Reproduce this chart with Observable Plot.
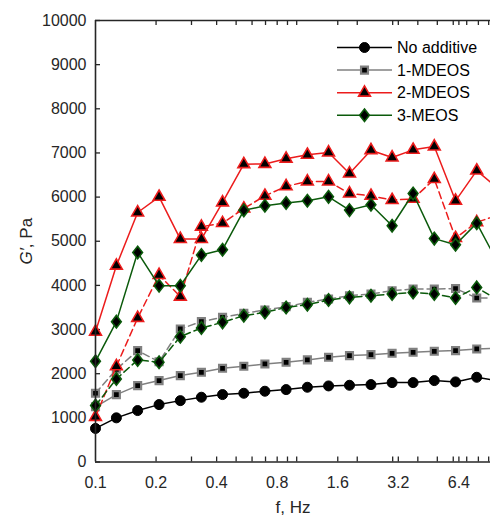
<!DOCTYPE html>
<html><head><meta charset="utf-8">
<script src="https://cdn.jsdelivr.net/npm/d3@7"></script>
<script src="https://cdn.jsdelivr.net/npm/@observablehq/plot@0.6"></script>
<style>
html,body{margin:0;padding:0;background:#fff;overflow:hidden;}
#chart{position:relative;width:490px;height:516px;}
#chart svg{overflow:hidden;}
</style></head><body><div id="chart"></div>
<script>
// Frequencies (Hz), log-spaced sweep; the last point lies just beyond the cropped right edge
const freq = [0.1, 0.127, 0.162, 0.207, 0.264, 0.336, 0.428, 0.546, 0.695, 0.886, 1.13, 1.44, 1.83, 2.34, 2.98, 3.79, 4.83, 6.16, 7.85, 10];

const noAdditive   = [760, 1000, 1165, 1300, 1390, 1467, 1527, 1557, 1603, 1640, 1693, 1723, 1738, 1753, 1798, 1798, 1844, 1814, 1919, 1840];
const mdeos1Solid  = [1250, 1527, 1731, 1844, 1957, 2032, 2122, 2168, 2221, 2258, 2312, 2372, 2410, 2432, 2462, 2485, 2507, 2523, 2561, 2580];
const mdeos1Dashed = [1557, 2100, 2523, 2270, 3014, 3179, 3276, 3367, 3443, 3518, 3616, 3692, 3767, 3805, 3880, 3918, 3918, 3930, 3715, 3720];
const mdeos2Solid  = [2950, 4446, 5651, 6006, 5050, 5050, 5878, 6745, 6750, 6870, 6957, 7009, 6534, 7062, 6896, 7070, 7145, 5916, 6600, 6197];
const mdeos2Dashed = [1020, 2168, 3262, 4235, 3744, 5330, 5410, 5740, 6029, 6245, 6353, 6353, 6081, 6029, 5932, 5960, 6407, 5072, 5430, 5590];
const meos3Solid   = [2281, 3179, 4747, 3993, 3993, 4687, 4808, 5700, 5803, 5865, 5916, 6006, 5705, 5826, 5351, 6081, 5060, 4921, 5410, 4513];
const meos3Dashed  = [1278, 1882, 2312, 2258, 2839, 3036, 3163, 3314, 3389, 3500, 3563, 3669, 3729, 3767, 3805, 3842, 3805, 3715, 3955, 3667];

const seriesNames = ["No additive", "1-MDEOS", "2-MDEOS", "3-MEOS"];
const xTickLabels = ["0.1", "0.2", "0.4", "0.8", "1.6", "3.2", "6.4"];
const xTickMarks  = [0.2, 0.3, 0.4, 0.5, 0.6, 0.7, 0.8, 0.9, 1, 1.6, 2, 3, 3.2, 4, 5, 6, 6.4, 7, 8, 9];
const yTicks      = [0, 1000, 2000, 3000, 4000, 5000, 6000, 7000, 8000, 9000, 10000];

const RED = "#ec1c1c", GREEN = "#0b5a0b", GRAY = "#808080", AXIS = "#262626";
const FONT = "'Liberation Sans', Arial, sans-serif";

const diamond = {draw(ctx, size) {
  const h = Math.sqrt(size / 1.56), w = 0.78 * h;
  ctx.moveTo(0, -h); ctx.lineTo(w, 0); ctx.lineTo(0, h); ctx.lineTo(-w, 0); ctx.closePath();
}};

const styles = {
  "No additive": {line: "black", symbol: "circle", r: 5, fill: "black", stroke: "black", sw: 1},
  "1-MDEOS": {line: GRAY, symbol: "square", r: 3.9, fill: "black", stroke: GRAY, sw: 2.2},
  "2-MDEOS": {line: RED, symbol: "triangle", r: 4.4, fill: "black", stroke: RED, sw: 1.6},
  "3-MEOS": {line: GREEN, symbol: diamond, r: 4.4, fill: "black", stroke: GREEN, sw: 1.6}
};

const rows = (vals) => freq.map((f, i) => ({f, v: vals[i]}));
const curves = [
  {name: "No additive", vals: noAdditive, dash: null},
  {name: "1-MDEOS", vals: mdeos1Solid, dash: null},
  {name: "1-MDEOS", vals: mdeos1Dashed, dash: "7,4"},
  {name: "2-MDEOS", vals: mdeos2Solid, dash: null},
  {name: "2-MDEOS", vals: mdeos2Dashed, dash: "7,4"},
  {name: "3-MEOS", vals: meos3Solid, dash: null},
  {name: "3-MEOS", vals: meos3Dashed, dash: "7,4"}
];

const W = 490, H = 516, ML = 95, MR = 0, MT = 20, MB = 54.5;
const FW = W - ML - MR, FH = H - MT - MB;

const seriesMarks = [];
for (const name of seriesNames) {
  const s = styles[name];
  for (const c of curves.filter(c => c.name === name)) {
    seriesMarks.push(Plot.line(rows(c.vals), {x: "f", y: "v", stroke: s.line, strokeWidth: 1.5, strokeDasharray: c.dash}));
  }
  for (const c of curves.filter(c => c.name === name)) {
    seriesMarks.push(Plot.dot(rows(c.vals), {x: "f", y: "v", symbol: s.symbol, r: s.r, fill: s.fill, stroke: s.stroke, strokeWidth: s.sw}));
  }
}

const chart = Plot.plot({
  width: W, height: H, marginLeft: ML, marginRight: MR, marginTop: MT, marginBottom: MB,
  style: {fontFamily: FONT, fontSize: "16px", color: AXIS, background: "white"},
  x: {type: "log", domain: [0.1, 9.19]},
  y: {domain: [0, 10000]},
  marks: [
    Plot.axisX({ticks: [], label: "f, Hz", labelAnchor: "center", labelArrow: "none", labelOffset: 51, fill: AXIS}),
    Plot.text(xTickLabels, {x: d => +d, text: d => d, frameAnchor: "bottom", lineAnchor: "top", dy: 14.5, fill: AXIS, fontSize: 16}),
    Plot.axisY({ticks: yTicks, tickSize: 0, tickPadding: 9, tickFormat: d => String(d),
      label: "G′, Pa", labelAnchor: "center", labelArrow: "none", labelOffset: 76, fill: AXIS}),
    Plot.tickX(xTickMarks, {x: d => d, insetTop: FH - 5, stroke: AXIS, strokeWidth: 1.3}),
    Plot.tickX(xTickMarks, {x: d => d, insetBottom: FH - 5, stroke: AXIS, strokeWidth: 1.3}),
    Plot.tickY(yTicks, {y: d => d, insetRight: FW - 5, stroke: AXIS, strokeWidth: 1.3}),
    ...seriesMarks,
    Plot.ruleY([0], {stroke: AXIS, strokeWidth: 1.6}),
    Plot.ruleY([10000], {stroke: AXIS, strokeWidth: 1.6}),
    Plot.ruleX([0.1], {stroke: AXIS, strokeWidth: 1.6})
  ]
});
document.getElementById("chart").appendChild(chart);

const svg = d3.select(chart);
svg.selectAll('g[aria-label="x-axis label"] text').style("font-size", "17px");
const yl = svg.select('g[aria-label="y-axis label"] text');
yl.style("font-size", "17px").text(null);
yl.append("tspan").attr("font-style", "italic").text("G′");
yl.append("tspan").text(", Pa");

// Legend (inside plot, top-right)
const leg = svg.append("g").attr("transform", "translate(337,47.5)")
  .attr("font-family", FONT).attr("font-size", 16).attr("text-anchor", "start");
seriesNames.forEach((name, i) => {
  const s = styles[name];
  const g = leg.append("g").attr("transform", `translate(0,${i * 22.6})`);
  g.append("line").attr("x1", 0).attr("x2", 55).attr("y1", 0).attr("y2", 0)
    .attr("stroke", s.line).attr("stroke-width", 1.5);
  const sym = typeof s.symbol === "string"
    ? {circle: d3.symbolCircle, square: d3.symbolSquare, triangle: d3.symbolTriangle}[s.symbol] : s.symbol;
  g.append("path").attr("transform", "translate(27.5,0)")
    .attr("d", d3.symbol(sym, Math.PI * s.r * s.r)())
    .attr("fill", s.fill).attr("stroke", s.stroke).attr("stroke-width", s.sw);
  g.append("text").attr("x", 60).attr("y", 0).attr("dy", "0.35em").attr("text-anchor", "start")
    .attr("fill", "black").text(name);
});
</script></body></html>
